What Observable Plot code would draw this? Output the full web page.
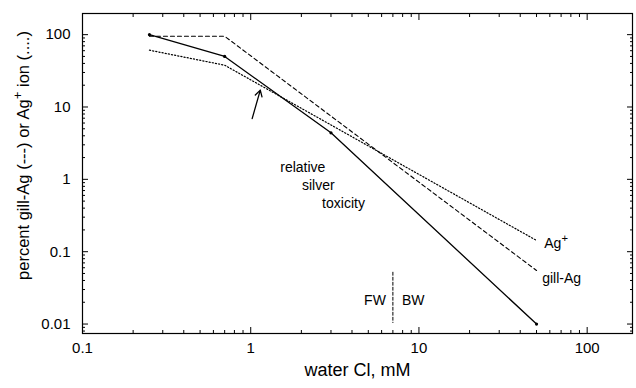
<!DOCTYPE html>
<html><head><meta charset="utf-8">
<script src="https://cdn.jsdelivr.net/npm/d3@7"></script>
<script src="https://cdn.jsdelivr.net/npm/@observablehq/plot@0.6"></script>
<style>body{margin:0;background:#fff} #chart svg{display:block}</style>
</head><body><div id="chart"></div>
<script>
// relative silver toxicity (solid)
const waterCl = [0.25, 0.7, 3, 50];
const toxicity = [100, 50, 4.4, 0.01];
// gill-Ag (dashed)
const gillCl = [0.25, 0.7, 50];
const gillAg = [95, 95, 0.055];
// Ag+ ion (dotted)
const ionCl = [0.25, 0.7, 50];
const agIon = [61, 37.8, 0.143];
// FW / BW boundary
const boundaryCl = [7, 7];
const boundaryPct = [0.052, 0.0105];
// arrow
const arrowCl = [1.02, 1.14];
const arrowPct = [6.9, 17.1];
// tick labels
const xTicks = [0.1, 1, 10, 100];
const xTickLabels = ["0.1", "1", "10", "100"];
const yTicks = [0.01, 0.1, 1, 10, 100];
const yTickLabels = ["0.01", "0.1", "1", "10", "100"];
// annotations
const noteText = ["relative", "silver", "toxicity"];
const noteCl = [2.04, 2.52, 3.56];
const notePct = [1.48, 0.83, 0.46];

const xDomain = [0.1, 186];
const yDomain = [0.0074, 196];
const xMinor = d3.scaleLog().domain(xDomain).ticks().filter(v => !xTicks.some(t => Math.abs(t - v) < 1e-9));
const yMinor = d3.scaleLog().domain(yDomain).ticks().filter(v => !yTicks.some(t => Math.abs(t - v) < 1e-9));

const solid = waterCl.map((x, i) => ({x, y: toxicity[i]}));
const dashed = gillCl.map((x, i) => ({x, y: gillAg[i]}));
const dotted = ionCl.map((x, i) => ({x, y: agIon[i]}));
const boundary = boundaryCl.map((x, i) => ({x, y: boundaryPct[i]}));
const notes = noteText.map((t, i) => ({t, x: noteCl[i], y: notePct[i]}));
const xFmt = v => xTickLabels[xTicks.indexOf(v)];
const yFmt = v => yTickLabels[yTicks.indexOf(v)];
const font = "Liberation Sans, Arial, Helvetica, sans-serif";

const chart = Plot.plot({
  width: 636, height: 388,
  marginLeft: 82, marginRight: 4, marginTop: 13, marginBottom: 55,
  style: {fontFamily: font, background: "white", color: "black"},
  x: {type: "log", domain: xDomain},
  y: {type: "log", domain: yDomain},
  marks: [
    Plot.frame({stroke: "black", strokeWidth: 1.2}),
    // labels
    Plot.axisX(xTicks, {anchor: "bottom", tickSize: 0, tickPadding: 9, tickFormat: xFmt, fontSize: 15, label: null}),
    Plot.axisY(yTicks, {anchor: "left", tickSize: 0, tickPadding: 12, tickFormat: yFmt, fontSize: 15, label: null}),
    // inward major ticks
    Plot.axisX(xTicks, {anchor: "bottom", tickSize: 6, dy: -6, tickFormat: () => "", label: null}),
    Plot.axisX(xTicks, {anchor: "top", tickSize: 6, dy: 6, tickFormat: () => "", label: null}),
    Plot.axisY(yTicks, {anchor: "left", tickSize: 6, dx: 6, tickFormat: () => "", label: null}),
    Plot.axisY(yTicks, {anchor: "right", tickSize: 6, dx: -6, tickFormat: () => "", label: null}),
    // inward minor ticks
    Plot.axisX(xMinor, {anchor: "bottom", tickSize: 3, dy: -3, tickFormat: () => "", label: null}),
    Plot.axisX(xMinor, {anchor: "top", tickSize: 3, dy: 3, tickFormat: () => "", label: null}),
    Plot.axisY(yMinor, {anchor: "left", tickSize: 3, dx: 3, tickFormat: () => "", label: null}),
    Plot.axisY(yMinor, {anchor: "right", tickSize: 3, dx: -3, tickFormat: () => "", label: null}),
    // axis titles
    Plot.text(["water Cl, mM"], {frameAnchor: "bottom", dy: 42, fontSize: 18, text: d => d}),
    Plot.text(["percent gill-Ag (---) or Ag\u207A ion (....)"], {frameAnchor: "left", textAnchor: "middle", rotate: -90, dx: -59, dy: -18, fontSize: 16.5, text: d => d}),
    // series
    Plot.line(dashed, {x: "x", y: "y", stroke: "black", strokeWidth: 1.1, strokeDasharray: "4,3"}),
    Plot.line(dotted, {x: "x", y: "y", stroke: "black", strokeWidth: 1.2, strokeDasharray: "1.2,2"}),
    Plot.line(solid, {x: "x", y: "y", stroke: "black", strokeWidth: 1.3}),
    Plot.dot(solid, {x: "x", y: "y", r: 1.6, fill: "black"}),
    Plot.line(boundary, {x: "x", y: "y", stroke: "black", strokeWidth: 1, strokeDasharray: "3,2"}),
    Plot.arrow([{x1: arrowCl[0], y1: arrowPct[0], x2: arrowCl[1], y2: arrowPct[1]}], {x1: "x1", y1: "y1", x2: "x2", y2: "y2", stroke: "black", strokeWidth: 1.3, headLength: 8}),
    // annotations
    Plot.text(notes, {x: "x", y: "y", text: "t", fontSize: 14}),
    Plot.text(["Ag\u207A"], {x: 55.6, y: 0.13, text: d => d, textAnchor: "start", fontSize: 14}),
    Plot.text(["gill-Ag"], {x: 54, y: 0.042, text: d => d, textAnchor: "start", fontSize: 14}),
    Plot.text(["FW"], {x: boundaryCl[0], y: 0.021, dx: -7, text: d => d, textAnchor: "end", fontSize: 14}),
    Plot.text(["BW"], {x: boundaryCl[0], y: 0.021, dx: 9, text: d => d, textAnchor: "start", fontSize: 14})
  ]
});
// render the "+" of Ag+ as a true superscript
d3.select(chart).selectAll("text").each(function () {
  const t = this.textContent;
  if (t.includes("\u207A")) {
    const [a, b] = t.split("\u207A");
    const sel = d3.select(this);
    sel.text(null);
    sel.append("tspan").text(a);
    sel.append("tspan").attr("baseline-shift", "super").attr("font-size", "0.8em").text("+");
    if (b) sel.append("tspan").text(b);
  }
});
document.getElementById("chart").appendChild(chart);
</script>
</body></html>
